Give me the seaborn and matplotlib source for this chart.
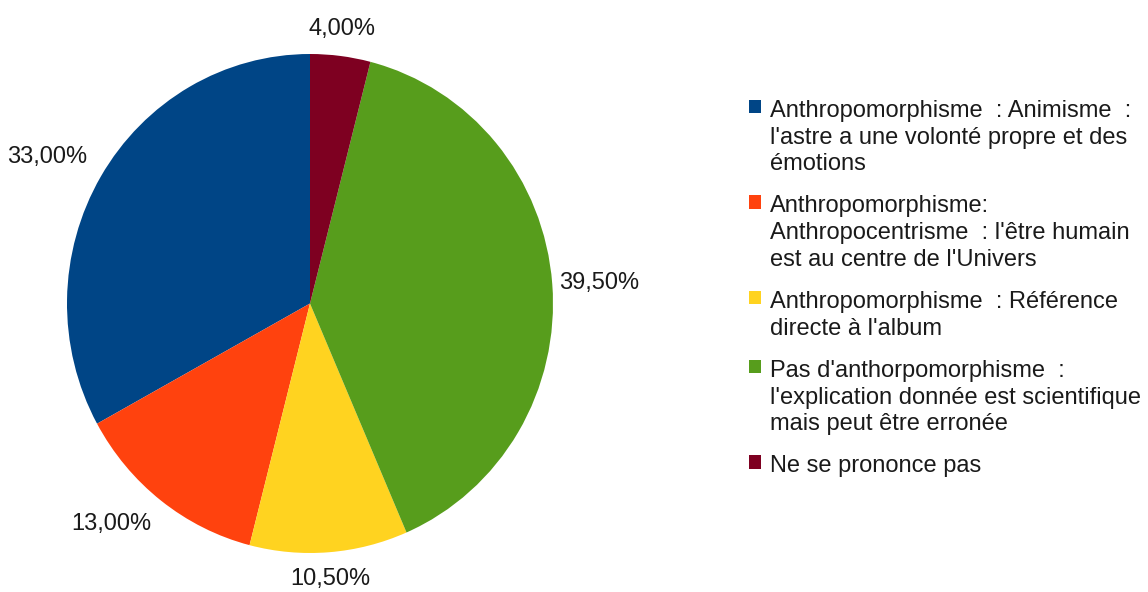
import numpy as np
import seaborn as sns
import matplotlib.pyplot as plt

# data (legend order, drawn counter-clockwise from the top)
labels = [
    "Anthropomorphisme  : Animisme  :\nl'astre a une volonté propre et des\némotions",
    "Anthropomorphisme:\nAnthropocentrisme  : l'être humain\nest au centre de l'Univers",
    "Anthropomorphisme  : Référence\ndirecte à l'album",
    "Pas d'anthorpomorphisme  :\nl'explication donnée est scientifique\nmais peut être erronée",
    "Ne se prononce pas",
]
values = [33.0, 13.0, 10.5, 39.5, 4.0]
colors = ["#004586", "#ff420e", "#ffd320", "#579d1c", "#7e0021"]

sns.set_theme(style="white")
plt.rcParams["font.family"] = ["Liberation Sans", "DejaVu Sans"]

fig = plt.figure(figsize=(11.48, 5.92), dpi=100)
ax = fig.add_axes([67 / 1148, 39 / 592, 486 / 1148, 499 / 592])

wedges, _ = ax.pie(values, colors=colors, startangle=90, counterclock=True,
                   wedgeprops=dict(linewidth=0))
ax.set_xlim(-1, 1)
ax.set_ylim(-1, 1)
ax.set_aspect("auto")

# percentage labels just outside each wedge
for w, v in zip(wedges, values):
    ang = np.deg2rad((w.theta1 + w.theta2) / 2)
    c, s = np.cos(ang), np.sin(ang)
    ha = "left" if c > 0.3 else ("right" if c < -0.3 else "center")
    va = "bottom" if s > 0.3 else ("top" if s < -0.3 else "center")
    d = 1.03 if va == "center" else 1.065
    ax.text(d * c, d * s, f"{v:.2f}%".replace(".", ","),
            ha=ha, va=va, fontsize=17, color="#1a1a1a")

leg = fig.legend(wedges, labels, loc="upper left",
                 bbox_to_anchor=(737 / 1148, 1 - 88 / 592),
                 frameon=False, fontsize=17, borderpad=0,
                 handlelength=0.5, handleheight=0.5, handletextpad=0.4,
                 labelspacing=0.85)
for t in leg.get_texts():
    t.set_color("#1a1a1a")
    t.set_linespacing(1.28)
# put the square next to the first line of each entry
for col in leg._legend_handle_box.get_children():
    for item in col.get_children():
        item.align = "top"

fig.savefig("out.png", dpi=100)
